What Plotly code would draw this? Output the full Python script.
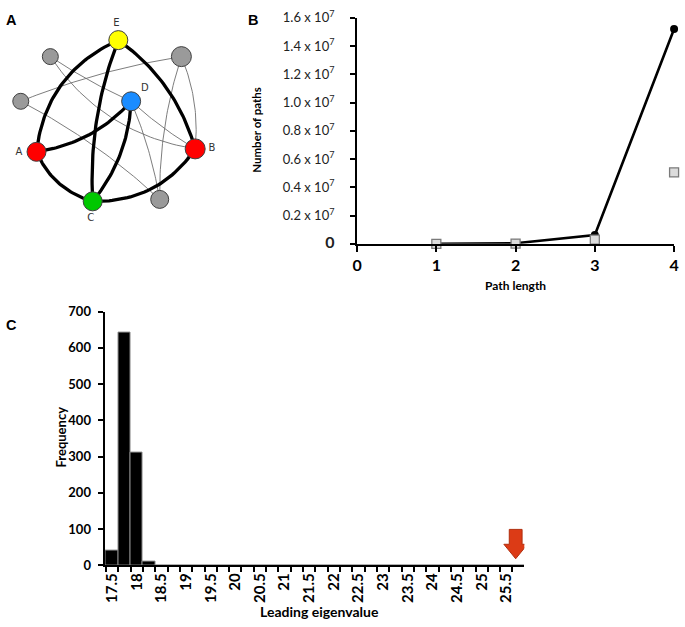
import numpy as np
import plotly.graph_objects as go

W, H = 685, 627

# ---------------- Panel A: network ----------------
node_ids = ["A", "B", "C", "D", "E", "g1", "g2", "g3", "g4"]
node_x = [32, 193, 89, 128, 115, 46, 179, 16, 157]
node_y = [146, 143, 197, 94, 31, 48, 48, 94, 195]
node_colors = ["#ff0000", "#ff0000", "#00c800", "#1a8cff", "#ffff00",
               "#9a9a9a", "#9a9a9a", "#9a9a9a", "#9a9a9a"]
node_sizes = [19, 20, 19, 19, 19, 16, 20, 16, 18]
label_text = ["A", "B", "C", "D", "E"]
label_x = [14, 210, 87, 142, 113]
label_y = [147, 143, 215, 81, 14]

# (from, to, bend in px)
strong_edges = [("E", "A", 20), ("E", "B", -12), ("E", "C", 9), ("A", "C", 9),
                ("C", "B", 16), ("A", "D", 10), ("D", "C", -9)]
weak_edges = [("g1", "D", 2), ("g1", "B", 19), ("g2", "g3", 5), ("g2", "B", -6),
              ("g2", "g4", 6), ("g3", "g4", -6), ("D", "g4", -3), ("D", "B", 2)]

# ---------------- Panel B: paths ----------------
path_length = [1, 2, 3, 4]
paths_network = [2000, 40000, 620000, 15200000]
paths_random = [1000, 10000, 300000, 5060000]
b_ytick_vals = [0, 2e6, 4e6, 6e6, 8e6, 10e6, 12e6, 14e6, 16e6]
b_ytick_text = ["<span style='font-size:16px'><b>0</b></span>",
                "0.2 x 10<sup>7</sup>", "0.4 x 10<sup>7</sup>", "0.6 x 10<sup>7</sup>",
                "0.8 x 10<sup>7</sup>", "1.0 x 10<sup>7</sup>", "1.2 x 10<sup>7</sup>",
                "1.4 x 10<sup>7</sup>", "1.6 x 10<sup>7</sup>"]
b_xtick_vals = [0, 1, 2, 3, 4]

# ---------------- Panel C: histogram ----------------
eig_bins = [17.5, 17.75, 18, 18.25, 18.5, 18.75, 19, 19.25, 19.5, 19.75,
            20, 20.25, 20.5, 20.75, 21, 21.25, 21.5, 21.75, 22, 22.25,
            22.5, 22.75, 23, 23.25, 23.5, 23.75, 24, 24.25, 24.5, 24.75,
            25, 25.25, 25.5, 25.75]
eig_freq = [40, 642, 310, 10, 0, 0, 0, 0, 0, 0,
            0, 0, 0, 0, 0, 0, 0, 0, 0, 0,
            0, 0, 0, 0, 0, 0, 0, 0, 0, 0,
            0, 0, 0, 0]
c_xtick_vals = [17.5, 18, 18.5, 19, 19.5, 20, 20.5, 21, 21.5, 22, 22.5,
                23, 23.5, 24, 24.5, 25, 25.5]
c_xtick_text = ["17.5", "18", "18.5", "19", "19.5", "20", "20.5", "21", "21.5",
                "22", "22.5", "23", "23.5", "24", "24.5", "25", "25.5"]
c_ytick_vals = [0, 100, 200, 300, 400, 500, 600, 700]
observed_eigenvalue = 25.69

FONT = "Lato"

def px_x(p):
    return p / W

def px_y(p):
    return 1 - p / H

fig = go.Figure()

# ---- Panel A traces ----
pos = {n: (x, y) for n, x, y in zip(node_ids, node_x, node_y)}

def curve(a, b, bend, n=40):
    x0, y0 = pos[a]
    x2, y2 = pos[b]
    dx, dy = x2 - x0, y2 - y0
    L = np.hypot(dx, dy)
    nx, ny = -dy / L, dx / L
    mx, my = (x0 + x2) / 2, (y0 + y2) / 2
    cx, cy = mx + 2 * bend * nx, my + 2 * bend * ny
    t = np.linspace(0, 1, n)
    xs = (1 - t) ** 2 * x0 + 2 * (1 - t) * t * cx + t ** 2 * x2
    ys = (1 - t) ** 2 * y0 + 2 * (1 - t) * t * cy + t ** 2 * y2
    return list(xs) + [None], list(ys) + [None]

wx, wy = [], []
for a, b, bend in weak_edges:
    xs, ys = curve(a, b, bend)
    wx += xs
    wy += ys
fig.add_trace(go.Scatter(x=wx, y=wy, mode="lines", line=dict(color="#6e6e6e", width=0.9),
                         xaxis="x3", yaxis="y3", hoverinfo="skip", showlegend=False))
sx, sy = [], []
for a, b, bend in strong_edges:
    xs, ys = curve(a, b, bend)
    sx += xs
    sy += ys
fig.add_trace(go.Scatter(x=sx, y=sy, mode="lines", line=dict(color="black", width=3.3),
                         xaxis="x3", yaxis="y3", hoverinfo="skip", showlegend=False))
fig.add_trace(go.Scatter(x=node_x, y=node_y, mode="markers",
                         marker=dict(color=node_colors, size=node_sizes, opacity=1,
                                     line=dict(color="#404040", width=1)),
                         xaxis="x3", yaxis="y3", hoverinfo="skip", showlegend=False,
                         cliponaxis=False))
fig.add_trace(go.Scatter(x=label_x, y=label_y, mode="text", text=label_text,
                         textfont=dict(family="DejaVu Sans", size=10, color="#333333"),
                         xaxis="x3", yaxis="y3", hoverinfo="skip", showlegend=False,
                         cliponaxis=False))

# ---- Panel B traces ----
fig.add_trace(go.Scatter(x=path_length, y=paths_network, mode="lines+markers",
                         line=dict(color="black", width=2.6),
                         marker=dict(symbol="circle", size=8, color="black"),
                         xaxis="x", yaxis="y", showlegend=False, cliponaxis=False))
fig.add_trace(go.Scatter(x=path_length, y=paths_random, mode="markers",
                         marker=dict(symbol="square", size=9, color="#dcdcdc", opacity=1,
                                     line=dict(color="#7a7a7a", width=1.3)),
                         xaxis="x", yaxis="y", showlegend=False, cliponaxis=False))

# ---- Panel C traces ----
fig.add_trace(go.Bar(x=eig_bins, y=eig_freq, width=0.25,
                     marker=dict(color="black", line=dict(color="#8a8a8a", width=1)),
                     xaxis="x2", yaxis="y2", showlegend=False))

# arrow marking the observed leading eigenvalue
ax = observed_eigenvalue
shaft, head = 0.13, 0.24
top, neck, tip = 99, 58, 18
arrow_path = (f"M {ax-shaft},{top} L {ax+shaft},{top} L {ax+shaft},{neck} "
              f"L {ax+head},{neck} L {ax},{tip} L {ax-head},{neck} L {ax-shaft},{neck} Z")
fig.add_shape(type="path", path=arrow_path, xref="x2", yref="y2",
              fillcolor="#dc3b16", line=dict(color="#b02e0e", width=1))

axis_common = dict(showgrid=False, zeroline=False, showline=True, linecolor="black",
                   linewidth=2, ticks="outside", tickcolor="black", tickwidth=2)

fig.update_layout(
    width=W, height=H, autosize=False,
    margin=dict(l=0, r=0, t=0, b=0),
    paper_bgcolor="white", plot_bgcolor="white",
    bargap=0,
    font=dict(family=FONT, color="black"),
    xaxis=dict(domain=[px_x(357.3), px_x(679)], range=[0, 4], anchor="y",
               tickvals=b_xtick_vals, ticklen=6,
               tickfont=dict(family=FONT, size=16, weight="bold"), **axis_common),
    yaxis=dict(domain=[px_y(240.7), px_y(8)], range=[0, 1.6e7], anchor="x",
               tickvals=b_ytick_vals, ticktext=b_ytick_text, ticklen=5,
               ticklabelstandoff=13,
               tickfont=dict(family=FONT, size=13, color="#222222"), **axis_common),
    xaxis2=dict(domain=[px_x(101), px_x(527)], range=[17.345, 25.865], anchor="y2",
                tickvals=c_xtick_vals, ticktext=c_xtick_text, tickangle=-90,
                ticklen=0, tickfont=dict(family=FONT, size=15, weight="bold"),
                minor=dict(tickmode="linear", tick0=17.375, dtick=0.25, ticks="outside",
                           ticklen=5, tickwidth=2, tickcolor="black", showgrid=False),
                **axis_common),
    yaxis2=dict(domain=[px_y(571.7), px_y(310.5)], range=[0, 700], anchor="x2",
                tickvals=c_ytick_vals, ticklen=5, ticklabelstandoff=4,
                tickfont=dict(family=FONT, size=13, weight="bold"), **axis_common),
    xaxis3=dict(domain=[0, px_x(230)], range=[0, 230], visible=False, anchor="y3",
                fixedrange=True),
    yaxis3=dict(domain=[px_y(225), 1], range=[225, 0], visible=False, anchor="x3",
                fixedrange=True),
)

annos = [
    dict(text="<b>A</b>", x=px_x(7), y=px_y(10), font=dict(family="Liberation Sans", size=14.5)),
    dict(text="<b>B</b>", x=px_x(252), y=px_y(10), font=dict(family="Liberation Sans", size=14.5)),
    dict(text="<b>C</b>", x=px_x(7), y=px_y(324), font=dict(family="Liberation Sans", size=14.5)),
    dict(text="<b>Number of paths</b>", x=px_x(255), y=px_y(123), textangle=-90,
         font=dict(family=FONT, size=11.5)),
    dict(text="<b>Path length</b>", x=px_x(518), y=px_y(284), font=dict(family=FONT, size=12)),
    dict(text="<b>Frequency</b>", x=px_x(57), y=px_y(440), textangle=-90,
         font=dict(family=FONT, size=13)),
    dict(text="<b>Leading eigenvalue</b>", x=px_x(319), y=px_y(619),
         font=dict(family=FONT, size=14)),
]
for a in annos:
    a.update(xref="paper", yref="paper", showarrow=False, xanchor="center", yanchor="middle")
    if "color" not in a["font"]:
        a["font"]["color"] = "black"
fig.update_layout(annotations=annos)

fig.write_html("out.html", config={"displayModeBar": False},
               post_script="document.body.style.margin='0px';")
